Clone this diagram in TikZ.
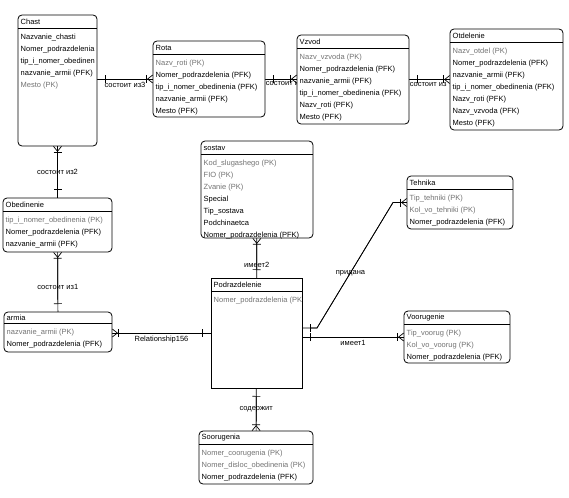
\documentclass[tikz,border=0pt]{standalone}
\usepackage{fontspec}
\setmainfont{Liberation Sans}
\usepackage{tikz}
\usetikzlibrary{positioning, arrows.meta, backgrounds}
\definecolor{keygray}{gray}{0.45}
\newcommand{\pk}[1]{\textcolor{keygray}{#1}}

\begin{document}
\begin{tikzpicture}[x=1pt,y=-1pt,
        ent/.style={draw,fill=white,rounded corners=4pt,anchor=north west,inner sep=0pt,outer sep=0pt,line width=0.8pt},
        indep/.style={ent,sharp corners},
        ttl/.style={anchor=north west,inner xsep=2.5pt,inner ysep=0pt,minimum height=13pt,font=\fontsize{7.5}{12}\selectfont},
        attrs/.style={anchor=north west,align=left,inner xsep=2.5pt,inner ysep=5pt,font=\fontsize{7.5}{12}\selectfont},
        hdr/.style={line width=0.8pt},
        lbl/.style={inner sep=2.5pt,font=\fontsize{7.5}{9}\selectfont},
        rel/.style={line width=0.7pt,postaction={draw,shorten <=8pt,{Bar[width=8pt]}-{Bar[width=8pt] Straight Barb[reversed,length=5pt,width=8pt]}}}]
        \useasboundingbox (0,0) rectangle (569,497);

        \node[ent, minimum width=79, minimum height=131] (chast) at (18,15) {};
        \node[ttl] (chastT) at (chast.north west) {Chast};
        \draw[hdr] (chast.west |- chastT.south) -- (chast.east |- chastT.south);
        \node[attrs] at (chastT.south west) {Nazvanie\_chasti\\Nomer\_podrazdelenia\\tip\_i\_nomer\_obedinen\\nazvanie\_armii (PFK)\\\pk{Mesto (PK)}};

        \node[ent, minimum width=112, minimum height=76] (rota) at (153,41) {};
        \node[ttl] (rotaT) at (rota.north west) {Rota};
        \draw[hdr] (rota.west |- rotaT.south) -- (rota.east |- rotaT.south);
        \node[attrs] at (rotaT.south west) {\pk{Nazv\_roti (PK)}\\Nomer\_podrazdelenia (PFK)\\tip\_i\_nomer\_obedinenia (PFK)\\nazvanie\_armii (PFK)\\Mesto (PFK)};

        \node[ent, minimum width=112, minimum height=89] (vzvod) at (297,35) {};
        \node[ttl] (vzvodT) at (vzvod.north west) {Vzvod};
        \draw[hdr] (vzvod.west |- vzvodT.south) -- (vzvod.east |- vzvodT.south);
        \node[attrs] at (vzvodT.south west) {\pk{Nazv\_vzvoda (PK)}\\Nomer\_podrazdelenia (PFK)\\nazvanie\_armii (PFK)\\tip\_i\_nomer\_obedinenia (PFK)\\Nazv\_roti (PFK)\\Mesto (PFK)};

        \node[ent, minimum width=113, minimum height=101] (otdel) at (450,29) {};
        \node[ttl] (otdelT) at (otdel.north west) {Otdelenie};
        \draw[hdr] (otdel.west |- otdelT.south) -- (otdel.east |- otdelT.south);
        \node[attrs] at (otdelT.south west) {\pk{Nazv\_otdel (PK)}\\Nomer\_podrazdelenia (PFK)\\nazvanie\_armii (PFK)\\tip\_i\_nomer\_obedinenia (PFK)\\Nazv\_roti (PFK)\\Nazv\_vzvoda (PFK)\\Mesto (PFK)};

        \node[ent, minimum width=109, minimum height=54] (obed) at (3,198) {};
        \node[ttl] (obedT) at (obed.north west) {Obedinenie};
        \draw[hdr] (obed.west |- obedT.south) -- (obed.east |- obedT.south);
        \node[attrs] at (obedT.south west) {\pk{tip\_i\_nomer\_obedinenia (PK)}\\Nomer\_podrazdelenia (PFK)\\nazvanie\_armii (PFK)};

        \node[ent, minimum width=108, minimum height=40] (armia) at (4,312) {};
        \node[ttl, minimum height=11pt] (armiaT) at (armia.north west) {armia};
        \draw[hdr] (armia.west |- armiaT.south) -- (armia.east |- armiaT.south);
        \node[attrs] at (armiaT.south west) {\pk{nazvanie\_armii (PK)}\\Nomer\_podrazdelenia (PFK)};

        \node[ent, minimum width=112, minimum height=97] (sostav) at (201,141) {};
        \node[ttl] (sostavT) at (sostav.north west) {sostav};
        \draw[hdr] (sostav.west |- sostavT.south) -- (sostav.east |- sostavT.south);
        \node[attrs] at (sostavT.south west) {\pk{Kod\_slugashego (PK)}\\\pk{FIO (PK)}\\\pk{Zvanie (PK)}\\Special\\Tip\_sostava\\Podchinaetca\\Nomer\_podrazdelenia (PFK)};

        \node[indep, minimum width=91, minimum height=110] (podr) at (211,278) {};
        \node[ttl] (podrT) at (podr.north west) {Podrazdelenie};
        \draw[hdr] (podr.west |- podrT.south) -- (podr.east |- podrT.south);
        \node[attrs] at (podrT.south west) {\pk{Nomer\_podrazdelenia (PK}};

        \node[ent, minimum width=106, minimum height=53] (tehn) at (407,176) {};
        \node[ttl] (tehnT) at (tehn.north west) {Tehnika};
        \draw[hdr] (tehn.west |- tehnT.south) -- (tehn.east |- tehnT.south);
        \node[attrs] at (tehnT.south west) {\pk{Tip\_tehniki (PK)}\\\pk{Kol\_vo\_tehniki (PK)}\\Nomer\_podrazdelenia (PFK)};

        \node[ent, minimum width=106, minimum height=52] (voor) at (404,311) {};
        \node[ttl] (voorT) at (voor.north west) {Voorugenie};
        \draw[hdr] (voor.west |- voorT.south) -- (voor.east |- voorT.south);
        \node[attrs] at (voorT.south west) {\pk{Tip\_voorug (PK)}\\\pk{Kol\_vo\_voorug (PK)}\\Nomer\_podrazdelenia (PFK)};

        \node[ent, minimum width=114, minimum height=53] (soor) at (199,431) {};
        \node[ttl] (soorT) at (soor.north west) {Soorugenia};
        \draw[hdr] (soor.west |- soorT.south) -- (soor.east |- soorT.south);
        \node[attrs] at (soorT.south west) {\pk{Nomer\_coorugenia (PK)}\\\pk{Nomer\_disloc\_obedinenia (PK)}\\Nomer\_podrazdelenia (PFK)};

        % relationships
        \begin{scope}[on background layer]
        \draw[rel] (chast.east |- rota.west) -- node[lbl,below] {состоит из3} (rota.west);
        \draw[rel] (rota.east) -- node[lbl,anchor=north west,pos=0,inner xsep=0.5pt] {состоит из} (rota.east -| vzvod.west);
        \draw[rel] (vzvod.east) -- node[lbl,anchor=north west,pos=0,inner xsep=0.5pt] {состоит из} (vzvod.east -| otdel.west);
        \draw[rel] (obed) -- node[lbl] {состоит из2} (chast);
        \draw[rel] (armia) -- node[lbl,pos=0.42] {состоит из1} (obed);
        \draw[rel] (podr.west) -- node[lbl,below] {Relationship156} (podr.west -| armia.east);
        \draw[rel] (podr) -- node[lbl,pos=0.33] {имеет2} (sostav);
        \draw[rel] (podr) -- node[lbl] {содержит} (soor);
        \draw[rel] (podr.east |- voor.west) -- node[lbl,below] {имеет1} (voor.west);
        \draw[rel] ([yshift=5pt]podr.east) -- ++(15,0) -- node[lbl,pos=0.44] {придана} ([xshift=-14pt]tehn.west) -- (tehn.west);
        \end{scope}
\end{tikzpicture}
\end{document}
